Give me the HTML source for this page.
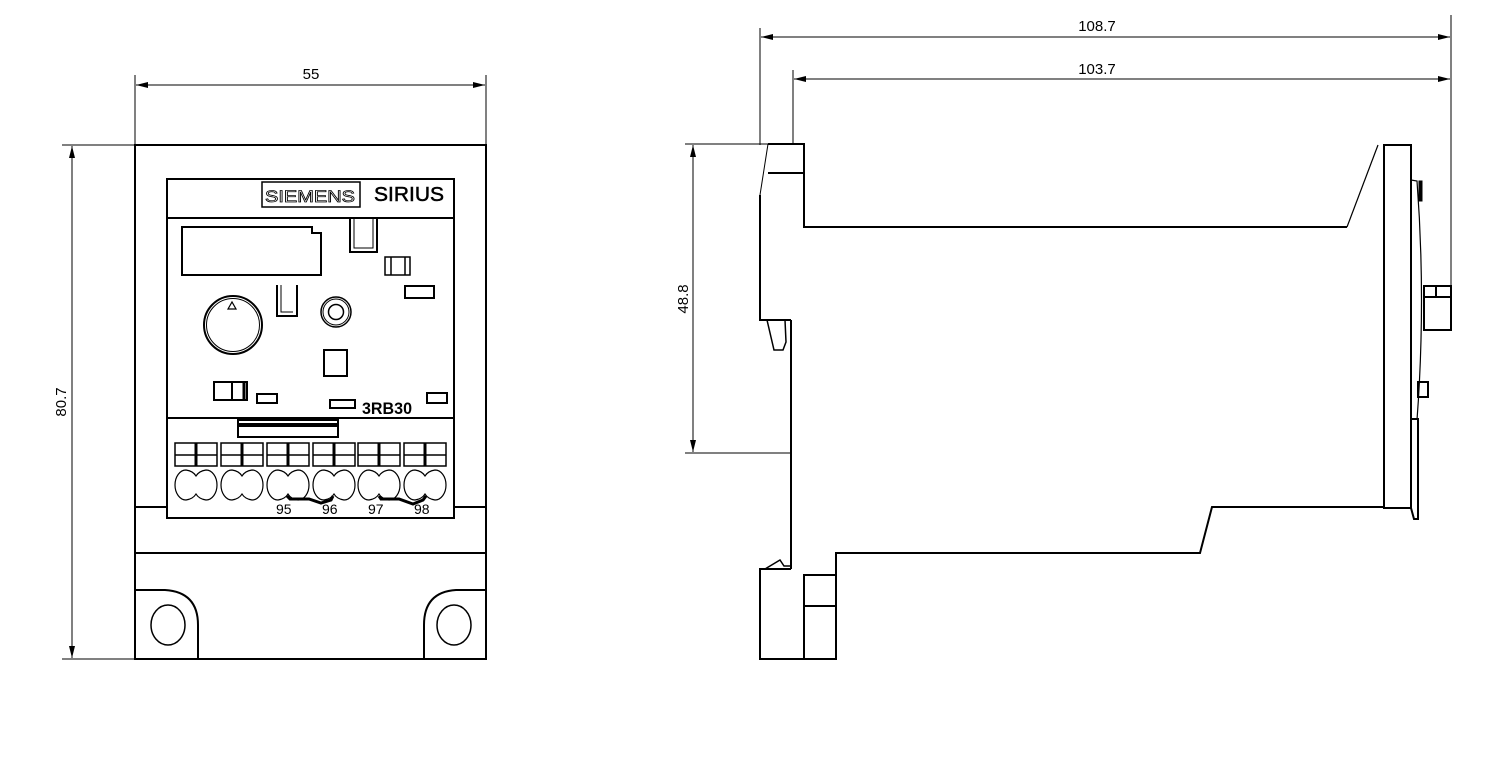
<!DOCTYPE html>
<html><head><meta charset="utf-8"><style>
html,body{margin:0;padding:0;background:#fff}
svg{display:block}
text{font-family:"Liberation Sans",sans-serif}
</style></head><body>
<svg width="1500" height="761" viewBox="0 0 1500 761" xmlns="http://www.w3.org/2000/svg">
<defs>
<marker id="a" viewBox="0 0 12 6" refX="12" refY="3" markerWidth="12" markerHeight="6" orient="auto-start-reverse" markerUnits="userSpaceOnUse"><path d="M0,0 L12,3 L0,6 z" fill="#000"/></marker>
</defs>
<g fill="none" stroke="#000" stroke-width="1">
<line x1="135" y1="75" x2="135" y2="145"/><line x1="486" y1="75" x2="486" y2="145"/>
<line x1="136" y1="85" x2="485" y2="85" marker-start="url(#a)" marker-end="url(#a)"/>
<line x1="62" y1="145" x2="135" y2="145"/><line x1="62" y1="659" x2="135" y2="659"/>
<line x1="72" y1="146" x2="72" y2="658" marker-start="url(#a)" marker-end="url(#a)"/>
<line x1="760" y1="28" x2="760" y2="145"/><line x1="1451" y1="15" x2="1451" y2="286"/>
<line x1="761" y1="37" x2="1450" y2="37" marker-start="url(#a)" marker-end="url(#a)"/>
<line x1="793" y1="70" x2="793" y2="145"/>
<line x1="794" y1="79" x2="1450" y2="79" marker-start="url(#a)" marker-end="url(#a)"/>
<line x1="685" y1="144" x2="768" y2="144"/><line x1="685" y1="453" x2="791" y2="453"/>
<line x1="693" y1="145" x2="693" y2="452" marker-start="url(#a)" marker-end="url(#a)"/>
</g>
<g fill="#000" font-size="15">
<text x="311" y="79" text-anchor="middle">55</text>
<text x="1097" y="31" text-anchor="middle">108.7</text>
<text x="1097" y="74" text-anchor="middle">103.7</text>
<text transform="translate(66,402) rotate(-90)" text-anchor="middle">80.7</text>
<text transform="translate(688,299) rotate(-90)" text-anchor="middle">48.8</text>
</g>
<g fill="none" stroke="#000" stroke-width="2">
<rect x="135" y="145" width="351" height="514"/>
<line x1="135" y1="507" x2="167" y2="507"/><line x1="454" y1="507" x2="486" y2="507"/>
<line x1="135" y1="553" x2="486" y2="553"/>
<path d="M135,590 L165,590 Q198,592 198,625 L198,659"/>
<path d="M486,590 L456,590 Q424,592 424,625 L424,659"/>
<ellipse cx="168" cy="625" rx="17" ry="20" stroke-width="1.5"/>
<ellipse cx="454" cy="625" rx="17" ry="20" stroke-width="1.5"/>
<rect x="167" y="179" width="287" height="339"/>
<line x1="167" y1="218" x2="454" y2="218"/>
<line x1="167" y1="418" x2="454" y2="418"/>
<rect x="262" y="182" width="98" height="25" stroke-width="1.5"/>
<path d="M182,227 L312,227 L312,233 L321,233 L321,275 L182,275 Z"/>
<path d="M350,218 L350,252 L377,252 L377,218" /><path d="M354,218 L354,248 L373,248 L373,218" stroke-width="1"/>
<rect x="385" y="257" width="25" height="18" stroke-width="1.5"/><line x1="391" y1="257" x2="391" y2="275" stroke-width="1.5"/><line x1="405" y1="257" x2="405" y2="275" stroke-width="1.5"/>
<rect x="405" y="286" width="29" height="12"/>
<path d="M277,285 L277,316 L297,316 L297,285" /><path d="M281,285 L281,312 L293,312" stroke-width="1"/>
<circle cx="233" cy="325" r="29"/><circle cx="233" cy="325" r="26.5" stroke-width="1"/>
<path d="M228,309 L232,302 L236,309 Z" stroke-width="1.2"/>
<circle cx="336" cy="312" r="15" stroke-width="1.5"/><circle cx="336" cy="312" r="13" stroke-width="1"/><circle cx="336" cy="312" r="7.5" stroke-width="1.5"/>
<rect x="324" y="350" width="23" height="26"/>
<rect x="214" y="382" width="33" height="18"/><line x1="232" y1="382" x2="232" y2="400"/><line x1="244" y1="382" x2="244" y2="400" stroke-width="3"/>
<rect x="257" y="394" width="20" height="9"/>
<rect x="330" y="400" width="25" height="8"/>
<rect x="427" y="393" width="20" height="10"/>
<rect x="238" y="420" width="100" height="17"/>
<line x1="238" y1="425" x2="338" y2="425" stroke-width="4"/>
</g>
<g fill="none" stroke="#000" stroke-width="1.5">
<g id="t">
<rect x="175" y="443" width="42" height="23"/><line x1="196" y1="443" x2="196" y2="466" stroke-width="3"/><line x1="175" y1="455" x2="217" y2="455"/>
<path d="M186,470 A11,15 0 0 0 186,500 Q193,499 196,494 Q199,499 206,500 A11,15 0 0 0 206,470 Q199,471 196,476 Q193,471 186,470 Z" stroke-width="1.2"/>
</g>
<use href="#t" x="46"/><use href="#t" x="92"/><use href="#t" x="138"/><use href="#t" x="183"/><use href="#t" x="229"/>
<path d="M287,496 L290,499 L309,499 L321,503 L331,500 L333,496" stroke-width="3"/>
<path d="M379,496 L381,499 L399,499 L413,504 L423,500 L426,496" stroke-width="3"/>
</g>
<g fill="#000">
<text x="265" y="202" font-size="17" textLength="90" lengthAdjust="spacingAndGlyphs" fill="none" stroke="#000" stroke-width="0.8">SIEMENS</text>
<text x="374" y="201" font-size="20" textLength="70" lengthAdjust="spacingAndGlyphs" stroke="#000" stroke-width="0.5">SIRIUS</text>
<text x="362" y="414" font-size="17" font-weight="bold" textLength="50" lengthAdjust="spacingAndGlyphs">3RB30</text>
<text x="276" y="514" font-size="14">95</text><text x="322" y="514" font-size="14">96</text>
<text x="368" y="514" font-size="14">97</text><text x="414" y="514" font-size="14">98</text>
</g>
<g fill="none" stroke="#000" stroke-width="2">
<path d="M768,144 L804,144 L804,227 L1347,227"/>
<line x1="768" y1="173" x2="804" y2="173"/>
<path d="M768,144 L760,195" stroke-width="1"/>
<path d="M760,195 L760,320 L791,320"/>
<path d="M767,320 L774,350 L783,350 L786,342 L785,320" stroke-width="1.5"/>
<line x1="791" y1="320" x2="791" y2="569"/>
<path d="M791,569 L760,569 L760,659 L836,659 L836,553 L1200,553 L1212,507 L1383,507"/>
<path d="M765,569 L780,560 L784,566 L791,566" stroke-width="1.5"/>
<rect x="804" y="575" width="32" height="84"/><line x1="804" y1="606" x2="836" y2="606"/>
<path d="M1347,227 L1378,145" stroke-width="1.2"/>
<rect x="1384" y="145" width="27" height="363"/>
<path d="M1411,180 L1417,181 Q1426,300 1417,420" stroke-width="1.2"/>
<rect x="1419" y="181" width="3" height="20" fill="#000" stroke-width="1"/>
<rect x="1424" y="286" width="27" height="44"/><line x1="1436" y1="286" x2="1436" y2="297"/><line x1="1424" y1="297" x2="1451" y2="297"/>
<rect x="1418" y="382" width="10" height="15"/>
<path d="M1411,419 L1418,419 L1418,519 L1414,519 L1411,508"/>
</g>
</svg>
</body></html>
